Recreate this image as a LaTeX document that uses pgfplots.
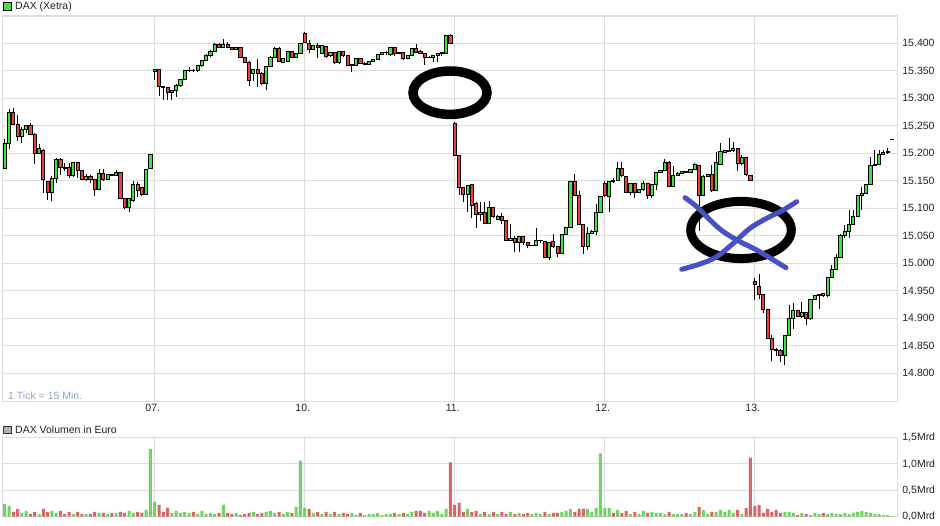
\documentclass[border=0pt]{standalone}
\usepackage{fontspec}
\setmainfont{Liberation Sans}
\usepackage{pgfplots}
\usepackage{pgfplotstable}
\pgfplotsset{compat=1.18}
\definecolor{cgreen}{RGB}{60,228,60}
\definecolor{cred}{RGB}{238,62,62}
\definecolor{vgreen}{RGB}{108,214,98}
\definecolor{vred}{RGB}{218,100,104}
\definecolor{gridgray}{RGB}{220,220,220}
\definecolor{txt}{RGB}{34,34,34}
\definecolor{tickinfo}{RGB}{150,165,188}
\definecolor{penblue}{RGB}{72,80,195}

\pgfplotstableread{
o h l c v d
15172 15226 15171 15217 0.244 1
15217 15280 15208 15274 0.205 1
15274 15282 15251 15252 0.090 0
15252 15269 15223 15230 0.147 0
15230 15247 15218 15243 0.071 1
15243 15252 15236 15250 0.109 1
15250 15255 15235 15235 0.051 0
15235 15236 15181 15199 0.090 0
15199 15217 15199 15208 0.051 1
15206 15208 15128 15152 0.147 0
15148 15148 15115 15128 0.090 0
15128 15159 15114 15155 0.109 1
15155 15192 15146 15188 0.071 1
15188 15191 15161 15175 0.109 0
15175 15182 15167 15172 0.051 0
15174 15183 15155 15160 0.090 0
15160 15185 15157 15183 0.051 1
15183 15185 15155 15168 0.090 0
15168 15169 15151 15152 0.051 0
15152 15163 15150 15157 0.051 1
15157 15160 15146 15152 0.051 0
15152 15153 15122 15134 0.090 0
15134 15172 15133 15163 0.071 1
15163 15172 15150 15152 0.071 0
15152 15162 15151 15161 0.051 1
15161 15162 15158 15160 0.071 0
15160 15170 15159 15166 0.071 1
15165 15166 15116 15117 0.090 0
15117 15118 15099 15101 0.071 0
15101 15118 15093 15117 0.109 1
15115 15150 15112 15143 0.071 1
15143 15147 15121 15132 0.090 0
15137 15138 15122 15126 0.071 0
15126 15171 15125 15170 0.128 1
15172 15198 15171 15197 1.280 1
15348 15354 15333 15352 0.282 1
15352 15354 15305 15321 0.224 0
15321 15321 15297 15319 0.090 0
15319 15320 15297 15310 0.167 0
15310 15315 15296 15314 0.071 1
15314 15326 15302 15323 0.109 1
15323 15335 15321 15335 0.071 1
15335 15350 15334 15350 0.090 1
15350 15357 15348 15351 0.071 1
15351 15354 15347 15350 0.090 0
15350 15360 15347 15359 0.051 1
15359 15369 15357 15369 0.109 1
15369 15380 15367 15378 0.051 1
15378 15388 15375 15386 0.071 1
15386 15400 15385 15398 0.051 1
15398 15400 15391 15393 0.071 0
15393 15407 15391 15398 0.224 1
15398 15403 15392 15393 0.071 0
15393 15394 15388 15389 0.051 0
15389 15394 15389 15393 0.071 1
15393 15393 15373 15374 0.032 0
15374 15375 15365 15366 0.051 0
15366 15367 15323 15332 0.071 0
15346 15353 15332 15352 0.090 1
15352 15371 15320 15346 0.051 0
15346 15347 15325 15327 0.071 0
15327 15359 15315 15358 0.090 1
15358 15376 15357 15375 0.109 1
15375 15394 15374 15391 0.071 1
15391 15394 15366 15367 0.090 0
15366 15374 15365 15373 0.051 1
15367 15386 15366 15385 0.090 1
15385 15386 15374 15375 0.071 0
15375 15382 15374 15381 0.186 1
15381 15401 15381 15400 1.060 1
15418 15420 15401 15402 0.167 1
15400 15406 15382 15389 0.147 0
15389 15397 15388 15396 0.071 1
15396 15401 15374 15392 0.090 0
15382 15397 15380 15396 0.051 1
15394 15395 15374 15376 0.090 0
15377 15384 15375 15383 0.051 1
15383 15384 15363 15365 0.090 0
15365 15386 15363 15385 0.051 1
15385 15386 15375 15377 0.071 0
15377 15378 15358 15360 0.051 0
15360 15362 15348 15361 0.071 1
15360 15373 15358 15372 0.032 1
15372 15374 15362 15364 0.071 0
15362 15366 15360 15364 0.032 1
15362 15368 15360 15367 0.051 1
15367 15372 15366 15371 0.051 1
15371 15381 15370 15380 0.071 1
15380 15384 15379 15383 0.032 1
15383 15386 15378 15384 0.051 1
15380 15393 15376 15392 0.051 1
15392 15393 15376 15382 0.071 0
15382 15384 15380 15383 0.051 1
15383 15384 15370 15372 0.071 0
15372 15378 15371 15377 0.051 1
15377 15392 15376 15391 0.090 1
15391 15399 15382 15383 0.109 0
15386 15387 15380 15382 0.109 0
15382 15383 15361 15374 0.071 0
15374 15376 15373 15375 0.109 1
15374 15378 15366 15377 0.071 1
15377 15383 15366 15382 0.109 1
15382 15384 15376 15383 0.051 1
15382 15415 15381 15414 0.147 1
15414 15416 15399 15400 1.030 0
15254 15256 15196 15196 0.224 0
15196 15196 15125 15137 0.263 0
15137 15138 15112 15126 0.090 0
15126 15143 15094 15142 0.147 1
15143 15143 15082 15106 0.090 0
15108 15112 15065 15088 0.109 0
15088 15112 15077 15093 0.051 1
15093 15112 15072 15072 0.090 0
15072 15114 15071 15102 0.051 1
15102 15102 15082 15086 0.090 0
15079 15088 15078 15086 0.051 1
15086 15091 15071 15077 0.090 0
15077 15077 15040 15041 0.051 0
15041 15072 15040 15046 0.090 1
15046 15049 15020 15037 0.051 0
15037 15048 15020 15048 0.071 1
15048 15048 15034 15037 0.051 0
15037 15037 15028 15032 0.071 0
15032 15034 15031 15033 0.051 1
15032 15064 15031 15041 0.071 1
15041 15042 15037 15042 0.051 1
15040 15040 15009 15011 0.090 0
15011 15037 15006 15037 0.051 1
15040 15053 15028 15031 0.071 0
15031 15031 15012 15018 0.071 0
15018 15053 15018 15053 0.090 1
15053 15065 15052 15065 0.109 1
15065 15148 15064 15148 0.147 1
15148 15162 15123 15123 0.090 0
15123 15131 15071 15071 0.147 0
15070 15070 15017 15031 0.147 0
15031 15066 15025 15055 0.147 1
15055 15060 15054 15058 0.090 1
15058 15107 15052 15092 0.167 1
15092 15121 15092 15121 1.200 1
15145 15149 15121 15123 0.167 1
15121 15149 15094 15149 0.167 1
15151 15155 15146 15148 0.071 0
15151 15185 15150 15172 0.128 1
15172 15185 15156 15160 0.071 0
15158 15158 15128 15129 0.109 0
15129 15146 15125 15146 0.051 1
15146 15146 15118 15129 0.090 0
15129 15135 15128 15134 0.051 1
15134 15149 15132 15146 0.109 1
15146 15146 15117 15123 0.071 0
15123 15143 15118 15143 0.090 1
15143 15165 15134 15165 0.071 1
15165 15170 15164 15168 0.071 1
15168 15190 15168 15183 0.051 1
15183 15186 15138 15140 0.090 0
15140 15176 15139 15160 0.051 1
15160 15166 15158 15164 0.051 1
15164 15168 15162 15167 0.051 1
15167 15168 15164 15165 0.071 0
15165 15171 15164 15170 0.051 1
15170 15182 15170 15179 0.090 1
15177 15179 15059 15123 0.186 0
15123 15160 15122 15158 0.128 1
15158 15162 15156 15161 0.051 1
15161 15179 15130 15132 0.090 0
15132 15203 15131 15184 0.090 1
15179 15218 15179 15203 0.128 1
15202 15206 15201 15205 0.090 1
15203 15228 15202 15205 0.128 1
15205 15220 15203 15209 0.071 1
15209 15209 15167 15181 0.128 0
15181 15197 15179 15192 0.051 1
15192 15194 15158 15161 0.167 0
15160 15161 15150 15150 1.120 0
14967 14973 14933 14961 0.205 0
14958 14980 14936 14943 0.224 0
14943 14945 14909 14917 0.071 0
14917 14917 14863 14863 0.147 0
14863 14870 14823 14844 0.090 0
14844 14846 14832 14842 0.128 0
14842 14845 14820 14833 0.071 0
14833 14869 14815 14869 0.090 1
14869 14924 14868 14900 0.090 1
14900 14927 14881 14915 0.071 1
14915 14916 14902 14903 0.032 0
14903 14930 14900 14910 0.071 1
14910 14911 14887 14899 0.051 0
14899 14936 14897 14935 0.032 1
14935 14943 14933 14942 0.071 1
14942 14945 14917 14943 0.051 1
14945 14946 14939 14941 0.071 0
14941 14975 14938 14974 0.051 1
14974 14997 14973 14988 0.071 1
14988 15016 14987 15011 0.051 1
15011 15054 15010 15050 0.051 1
15050 15070 15046 15058 0.071 1
15058 15097 15046 15070 0.051 1
15070 15097 15069 15086 0.071 1
15086 15124 15085 15123 0.090 1
15123 15139 15097 15127 0.109 1
15127 15143 15126 15143 0.090 1
15143 15194 15142 15177 0.071 1
15177 15206 15176 15179 0.051 1
15179 15206 15179 15197 0.051 1
15197 15206 15196 15202 0.032 1
15202 15209 15199 15203 0.032 1
15225 15226 15224 15226 0.013 1
}\candles

\begin{document}
\begin{tikzpicture}[x=1pt,y=1pt]
\useasboundingbox (0,0) rectangle (940,526);
\pgfplotsset{
  common/.style={scale only axis, width=895pt, xmin=-0.47, xmax=208.35, clip=true,
    scaled x ticks=false, scaled y ticks=false},
  lbl/.style={every tick label/.append style={font=\fontsize{10.5}{12}\selectfont, text=txt, inner sep=0pt}},
}
% ---------- main price axis: grid, labels, wicks
\begin{axis}[common, lbl, at={(2.7pt,124.3pt)}, anchor=south west, height=385.7pt,
  ymin=14748.4, ymax=15449.6,
  axis line style={gridgray, line width=1.2pt},
  grid=major, major grid style={gridgray, line width=1.2pt},
  xtick={35,70,105,140,175}, xticklabels={07.,10.,11.,12.,13.},
  ytick={14800,14850,14900,14950,15000,15050,15100,15150,15200,15250,15300,15350,15400},
  yticklabels={14.800,14.850,14.900,14.950,15.000,15.050,15.100,15.150,15.200,15.250,15.300,15.350,15.400},
  yticklabel pos=right,
  major tick length=0pt,
  yticklabel style={anchor=west, xshift=4.5pt},
  xticklabel style={anchor=north, yshift=-2.5pt, xshift=-2pt},
]
\addplot[draw=none, mark=none, error bars/.cd, y dir=plus, y explicit, error mark=none,
  error bar style={draw=black, line width=1pt}]
  table[x expr=\coordindex, y=l, y error expr=\thisrow{h}-\thisrow{l}] {\candles};
\end{axis}
% ---------- candle bodies
\begin{axis}[common, at={(2.7pt,124.3pt)}, anchor=south west, height=385.7pt,
  ymin=14748.4, ymax=15449.6, hide axis, ybar stacked, bar width=3.1pt]
\addplot[draw=none, fill=none] table[x expr=\coordindex, y expr={min(\thisrow{o},\thisrow{c})}] {\candles};
\addplot[draw=black, fill=cgreen, line width=0.9pt] table[x expr=\coordindex, y expr={max(\thisrow{c}-\thisrow{o},0)}] {\candles};
\addplot[draw=black, fill=cred, line width=0.9pt] table[x expr=\coordindex, y expr={max(\thisrow{o}-\thisrow{c},0)}] {\candles};
\end{axis}
% ---------- volume axis
\begin{axis}[common, lbl, at={(2.7pt,9.3pt)}, anchor=south west, height=79.2pt,
  ymin=0, ymax=1.5,
  axis line style={gridgray, line width=1.2pt},
  grid=major, major grid style={gridgray, line width=1.2pt},
  xtick={35,70,105,140,175}, xticklabels={},
  ytick={0,0.5,1,1.5}, yticklabels={{0,0Mrd},{0,5Mrd},{1,0Mrd},{1,5Mrd}},
  yticklabel pos=right, major tick length=0pt,
  yticklabel style={anchor=west, xshift=4.5pt},
  ybar, bar width=3pt,
]
\addplot[bar shift=0pt, fill=vgreen, draw=none] table[x expr=\coordindex, y expr=\thisrow{v}*\thisrow{d}] {\candles};
\addplot[bar shift=0pt, fill=vred, draw=none] table[x expr=\coordindex, y expr=\thisrow{v}*(1-\thisrow{d})] {\candles};
\end{axis}
% ---------- titles
\draw[black, line width=0.6pt, fill=cgreen] (3.3,515.7) rectangle (11,523.3);
\node[anchor=west, inner sep=0pt, font=\fontsize{10.5}{12}\selectfont, text=txt] at (15,519.5) {DAX (Xetra)};
\node[anchor=west, inner sep=0pt, font=\fontsize{10.5}{12}\selectfont, text=tickinfo] at (8,130) {1 Tick = 15 Min.};
\draw[black!80, line width=0.6pt, fill=black!30] (3.3,92.7) rectangle (11,100);
\node[anchor=west, inner sep=0pt, font=\fontsize{10.5}{12}\selectfont, text=txt] at (15,96.3) {DAX Volumen in Euro};
% ---------- hand-drawn annotations
\draw[black, line width=9.5pt] (450,433.3) ellipse [x radius=37pt, y radius=21.7pt];
\draw[black, line width=9pt] (741,296) ellipse [x radius=50.3pt, y radius=28.6pt];
\draw[penblue, line width=5pt, line cap=round, line join=round] plot[smooth, tension=0.6] coordinates {(685,328.3) (696.7,319.3) (710,306) (723.3,294.3) (740,284.3) (756.7,276) (773.3,266) (786,258.3)};
\draw[penblue, line width=5pt, line cap=round, line join=round] plot[smooth, tension=0.6] coordinates {(681.7,256.7) (700,262) (716.7,269.3) (733.3,282.7) (750,297.7) (766.7,307.7) (783.3,316) (796.7,324.3)};
\end{tikzpicture}
\end{document}
